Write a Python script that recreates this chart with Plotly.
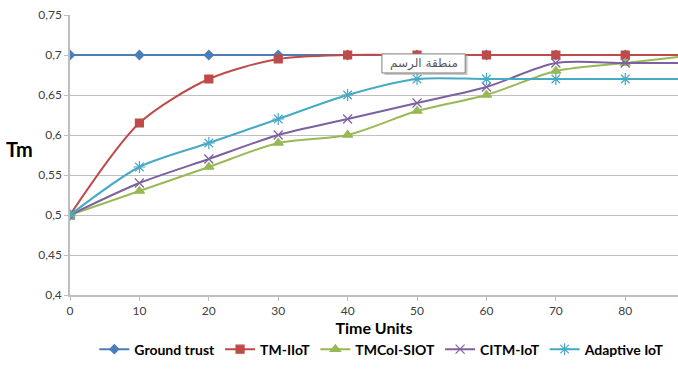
import plotly.graph_objects as go

# Time axis and trust values per model
time_units = [0, 10, 20, 30, 40, 50, 60, 70, 80, 90]
ground_trust = [0.7, 0.7, 0.7, 0.7, 0.7, 0.7, 0.7, 0.7, 0.7, 0.7]
tm_iiot = [0.5, 0.615, 0.67, 0.695, 0.7, 0.7, 0.7, 0.7, 0.7, 0.7]
tmcoi_siot = [0.5, 0.53, 0.56, 0.59, 0.6, 0.63, 0.65, 0.68, 0.69, 0.7]
citm_iot = [0.5, 0.54, 0.57, 0.6, 0.62, 0.64, 0.66, 0.69, 0.69, 0.69]
adaptive_iot = [0.5, 0.56, 0.59, 0.62, 0.65, 0.67, 0.67, 0.67, 0.67, 0.67]

y_ticks = [0.4, 0.45, 0.5, 0.55, 0.6, 0.65, 0.7, 0.75]
x_ticks = [0, 10, 20, 30, 40, 50, 60, 70, 80]

series = [
    ("Ground trust", ground_trust, "#4A7EBB", "diamond", 7),
    ("TM-IIoT", tm_iiot, "#BE4B48", "square", 8),
    ("TMCoI-SIOT", tmcoi_siot, "#98B954", "triangle-up", 9),
    ("CITM-IoT", citm_iot, "#7D60A0", "x-thin-open", 9),
    ("Adaptive IoT", adaptive_iot, "#46AAC5", "asterisk-open", 10),
]

font_family = "Lato, 'Open Sans', sans-serif"

fig = go.Figure()
for name, values, color, symbol, size in series:
    fig.add_trace(go.Scatter(
        x=time_units, y=values, name=name, mode="lines+markers",
        line=dict(color=color, width=2, shape="spline", smoothing=0.8),
        marker=dict(symbol=symbol, size=size, color=color,
                    line=dict(color=color, width=1.2)),
        cliponaxis=True,
    ))

fig.update_layout(
    width=678, height=371,
    margin=dict(l=70, r=0, t=15, b=76),
    plot_bgcolor="white", paper_bgcolor="white",
    separators=", ",
    font=dict(family=font_family, size=12, color="#404040"),
    showlegend=True,
    legend=dict(
        orientation="h", x=0.04, xanchor="left", y=-0.195, yanchor="middle",
        font=dict(family=font_family, size=14, color="#000000", weight="bold"),
        itemwidth=30, tracegroupgap=0,
    ),
    xaxis=dict(
        range=[0, 87.6], tickvals=x_ticks, showgrid=False,
        showline=True, linecolor="#BFBFBF", linewidth=1.5,
        ticks="outside", ticklen=4, tickcolor="#BFBFBF",
        tickfont=dict(size=12, color="#404040"), zeroline=False,
        title=dict(text="Time Units", standoff=4,
                   font=dict(family=font_family, size=16, color="#000000", weight="bold")),
    ),
    yaxis=dict(
        range=[0.4, 0.75], tickvals=y_ticks, tickformat=",.2~f",
        showgrid=True, gridcolor="#BFBFBF", gridwidth=1,
        showline=True, linecolor="#BFBFBF", linewidth=1.5,
        ticks="outside", ticklen=4, tickcolor="#BFBFBF",
        tickfont=dict(size=12, color="#404040"), zeroline=False,
    ),
)

# Vertical axis title drawn horizontally beside the ticks
fig.add_annotation(
    text="Tm", xref="paper", yref="paper", x=-0.083, y=0.52,
    xanchor="center", yanchor="middle", showarrow=False,
    font=dict(family=font_family, size=20, color="#000000", weight="bold"),
)

# Plot-area tooltip box with a soft shadow
fig.add_shape(type="rect", xref="paper", yref="paper",
              x0=0.517, x1=0.654, y0=0.786, y1=0.857,
              fillcolor="#A6A6A6", line=dict(width=0), layer="above", opacity=0.6)
fig.add_shape(type="rect", xref="paper", yref="paper",
              x0=0.513, x1=0.650, y0=0.793, y1=0.861,
              fillcolor="white", line=dict(color="#7F7F7F", width=1), layer="above")
fig.add_annotation(
    text="منطقة الرسم", xref="paper", yref="paper", x=0.5815, y=0.827,
    xanchor="center", yanchor="middle", showarrow=False,
    font=dict(family="DejaVu Sans, sans-serif", size=12, color="#595959"),
)

fig.write_html("out.html")
